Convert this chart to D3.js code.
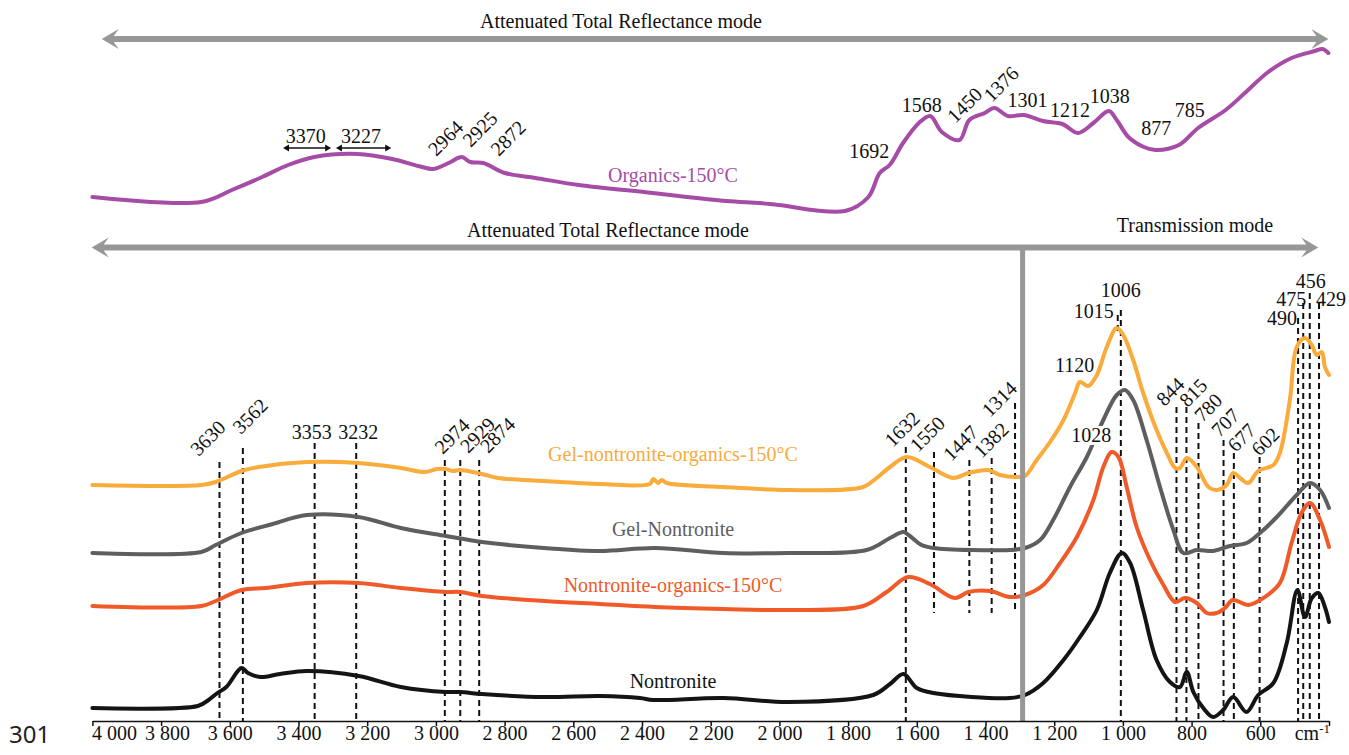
<!DOCTYPE html>
<html>
<head>
<meta charset="utf-8">
<script src="https://cdn.jsdelivr.net/npm/d3@7"></script>
<style>
  body { margin: 0; background: #fff; }
  svg { display: block; }
</style>
</head>
<body>
<div id="vis"></div>
<script>
// dimensions of the frame
const FRAME_WIDTH = 1349;
const FRAME_HEIGHT = 755;
const AXIS_Y = 721;
const SERIF = "'Liberation Serif', 'Times New Roman', serif";

// x axis ticks (wavenumber, cm-1)
const TICK_VALUES = [4000, 3800, 3600, 3400, 3200, 3000, 2800, 2600, 2400, 2200,
                     2000, 1800, 1600, 1400, 1200, 1000, 800, 600, 400];

// spectra: [wavenumber, relative intensity (offset units)]
const ORGANICS = [[4000,523],[3683,518],[3594,530],[3506,543],[3430,555],[3354,563],[3228,566],
  [3127,561],[3051,554],[3007,551],[2982,554],[2957,558],[2925,563],[2900,558],[2862,557],
  [2799,547],[2710,542],[2584,535],[2369,527],[2155,519],[2056,517],[2002,515],[1809,509],
  [1741,523],[1708,547],[1679,555],[1640,577],[1594,597],[1561,604],[1527,588],[1476,580],
  [1447,600],[1402,607],[1374,612],[1335,604],[1289,605],[1233,599],[1176,596],[1131,587],
  [1086,597],[1041,609],[1018,600],[984,583],[939,573],[905,570],[837,575],[781,592],
  [701,610],[645,627],[577,648],[509,662],[441,669],[419,671],[402,667]];

const GEL_ORGANICS = [[4000,235],[3683,235],[3641,238],[3566,249],[3516,253],[3376,258],
  [3225,257],[3102,252],[3033,248],[2997,251],[2971,251],[2950,249],[2930,250],[2866,246],
  [2819,242],[2685,239],[2522,236],[2377,236],[2367,241],[2353,237],[2343,240],[2328,237],
  [2163,233],[1974,230],[1756,233],[1717,242],[1678,253],[1629,263],[1562,253],[1494,242],
  [1450,247],[1392,250],[1358,245],[1309,243],[1285,244],[1251,260],[1212,278],[1173,300],
  [1139,327],[1125,338],[1101,334],[1076,345],[1047,373],[1018,392],[999,385],[970,360],
  [941,327],[902,290],[872,267],[848,252],[834,252],[814,262],[785,253],[751,233],[727,230],
  [698,235],[679,247],[659,242],[635,237],[606,249],[562,255],[543,267],[514,320],[494,373],
  [470,382],[450,375],[436,365],[421,368],[412,353],[400,345]];

const GEL_NONTRONITE = [[4000,167],[3683,168],[3641,175],[3566,187],[3475,196],[3376,205],
  [3225,203],[3102,192],[2971,184],[2866,178],[2685,172],[2522,169],[2362,172],[2163,167],
  [1974,167],[1746,170],[1678,182],[1639,188],[1620,184],[1586,175],[1552,172],[1329,170],
  [1285,172],[1241,180],[1203,200],[1154,233],[1105,263],[1057,300],[1018,325],[994,330],
  [970,320],[931,280],[892,233],[853,190],[824,167],[785,170],[737,169],[688,174],[640,177],
  [601,187],[552,203],[494,225],[455,237],[426,230],[400,212]];

const NONTRONITE_ORGANICS = [[4000,114],[3683,114],[3641,119],[3566,130],[3495,132],[3376,137],
  [3225,137],[3102,132],[2971,128],[2930,128],[2866,124],[2685,119],[2522,116],[2362,113],
  [2163,111],[1974,110],[1756,114],[1688,128],[1625,143],[1562,136],[1489,122],[1450,128],
  [1387,129],[1329,123],[1285,125],[1232,135],[1183,157],[1134,183],[1086,220],[1057,253],
  [1033,268],[1013,263],[989,233],[960,193],[921,160],[882,135],[848,118],[819,122],[785,117],
  [756,107],[727,107],[703,112],[680,120],[635,115],[591,122],[543,137],[509,177],[480,207],
  [455,217],[426,200],[400,173]];

const NONTRONITE = [[4000,12],[3693,14],[3662,20],[3636,27],[3610,33],[3566,52],[3547,47],
  [3511,43],[3454,46],[3376,49],[3225,44],[3102,33],[2971,28],[2930,28],[2866,26],[2685,23],
  [2522,24],[2406,22],[2367,20],[2163,22],[1974,18],[1727,25],[1678,36],[1639,46],[1600,32],
  [1552,27],[1329,22],[1285,25],[1232,37],[1173,60],[1125,83],[1076,110],[1038,147],[1003,167],
  [979,157],[941,110],[902,60],[863,38],[834,33],[814,48],[795,28],[766,12],[737,3],[708,10],
  [679,23],[640,8],[606,25],[562,37],[523,77],[492,130],[470,103],[450,122],[431,127],
  [412,113],[400,98]];

// series names
const SERIES_NAMES = ["Organics-150°C", "Gel-nontronite-organics-150°C", "Gel-Nontronite",
                      "Nontronite-organics-150°C", "Nontronite"];

// peak labels
const ORGANIC_PEAKS = [3370, 3227, 2964, 2925, 2872, 1692, 1568, 1450, 1376, 1301, 1212, 1038, 877, 785];
const ORGANIC_RANGES = [[3445, 3305], [3291, 3130]];
const LOWER_PEAKS = [3630, 3562, 3353, 3232, 2974, 2929, 2874, 1632, 1550, 1447, 1382, 1314,
                     1120, 1015, 1006, 1028, 844, 815, 780, 707, 677, 602, 490, 475, 456, 429];

// boundary between ATR and transmission modes (cm-1)
const MODE_SPLIT = 1292;

// ---------- layout / styles ----------
const STYLE = [
  {color: "#a64ca6", width: 4, labelY: 182},
  {color: "#f9ab3b", width: 4, labelY: 461},
  {color: "#5e5e5e", width: 4, labelY: 536},
  {color: "#f05a28", width: 4, labelY: 592},
  {color: "#141414", width: 4, labelY: 688}
];
const SERIES_LABEL_X = 673;

// label layout: rot = rotated -45, anchor, dx from peak, baseline y, dashed line [top, bottom]
const ORG_LAYOUT = {
  3370: {anchor: "middle", dx: -3, y: 143},
  3227: {anchor: "middle", dx: 3, y: 143},
  2964: {rot: true, dx: -12, y: 157},
  2925: {rot: true, dx: 9, y: 148},
  2872: {rot: true, dx: 19, y: 157},
  1692: {anchor: "end", dx: 4, y: 158},
  1568: {anchor: "middle", dx: -6, y: 112},
  1450: {rot: true, dx: -13, y: 124},
  1376: {rot: true, dx: -2, y: 103},
  1301: {anchor: "middle", dx: 8, y: 107},
  1212: {anchor: "middle", dx: 20, y: 117},
  1038: {anchor: "middle", dx: 0, y: 103},
  877: {anchor: "middle", dx: -9, y: 135},
  785: {anchor: "middle", dx: -7, y: 117}
};

const LOWER_LAYOUT = {
  3630: {rot: true, dx: -21, y: 457, line: [462, 721]},
  3562: {rot: true, dx: -2, y: 435, line: [448, 721]},
  3353: {anchor: "middle", dx: -3, y: 439, line: [443, 721]},
  3232: {anchor: "middle", dx: 2, y: 439, line: [443, 721]},
  2974: {rot: true, dx: -2, y: 455, line: [460, 721]},
  2929: {rot: true, dx: 8, y: 454, line: [460, 721]},
  2874: {rot: true, dx: 9, y: 454, line: [460, 721]},
  1632: {rot: true, dx: -13, y: 448, line: [447, 721]},
  1550: {rot: true, dx: -16, y: 453, line: [452, 613]},
  1447: {rot: true, dx: -18, y: 462, line: [460, 613]},
  1382: {rot: true, dx: -10, y: 459, line: [458, 613]},
  1314: {rot: true, dx: -25, y: 418, line: [403, 613]},
  1120: {anchor: "middle", dx: -7, y: 372},
  1015: {anchor: "end", dx: -4, y: 318, line: [315, 331]},
  1006: {anchor: "middle", dx: 0, y: 297, line: [310, 721]},
  1028: {anchor: "end", dx: -2, y: 442, bg: true},
  844: {rot: true, dx: -12, y: 407, line: [407, 721]},
  815: {rot: true, dx: 1, y: 408, line: [407, 721]},
  780: {rot: true, dx: 4, y: 423, line: [423, 721]},
  707: {rot: true, dx: -4, y: 438, line: [440, 721]},
  677: {rot: true, dx: 2, y: 453, line: [453, 721]},
  602: {rot: true, dx: 0, y: 457, line: [457, 721]},
  490: {anchor: "end", dx: -1, y: 325, line: [318, 721]},
  475: {anchor: "end", dx: 3, y: 306, line: [303, 721]},
  456: {anchor: "middle", dx: 1, y: 288, line: [293, 721]},
  429: {anchor: "start", dx: -3, y: 306, line: [303, 721]}
};

// ---------- scales ----------
const X_SCALE = d3.scaleLinear()
                  .domain([4000, 400])
                  .range([92.4, 1329]);

const Y_SCALE = d3.scaleLinear()
                  .domain([0, 720])
                  .range([720, 0]);

const FRAME = d3.select("#vis")
                .append("svg")
                .attr("width", FRAME_WIDTH)
                .attr("height", FRAME_HEIGHT)
                .style("background", "#fff");

// grey mode arrow (double headed, notched heads)
function bigArrow(x1, x2, y) {
  const h = 17, w = 10, n = 12, t = 3;
  return `M${x1},${y} L${x1 + h},${y - w} L${x1 + n},${y - t} L${x2 - n},${y - t} ` +
         `L${x2 - h},${y - w} L${x2},${y} L${x2 - h},${y + w} L${x2 - n},${y + t} ` +
         `L${x1 + n},${y + t} L${x1 + h},${y + w} Z`;
}

FRAME.append("path").attr("d", bigArrow(101.7, 1328.4, 39)).attr("fill", "#979797");
FRAME.append("path").attr("d", bigArrow(91.7, 1318.3, 247.5)).attr("fill", "#979797");

// mode titles
function serifText(x, y, txt, anchor) {
  return FRAME.append("text")
              .attr("x", x)
              .attr("y", y)
              .attr("text-anchor", anchor || "middle")
              .attr("font-family", SERIF)
              .attr("font-size", 20)
              .attr("fill", "#111")
              .text(txt);
}
serifText(621, 28, "Attenuated Total Reflectance mode");
serifText(608, 237, "Attenuated Total Reflectance mode");
serifText(1195, 232, "Transmission mode");

// dashed peak lines (behind the spectra)
FRAME.append("g")
     .selectAll("line")
     .data(LOWER_PEAKS.filter((p) => LOWER_LAYOUT[p].line))
     .enter()
     .append("line")
       .attr("x1", (d) => X_SCALE(d))
       .attr("x2", (d) => X_SCALE(d))
       .attr("y1", (d) => LOWER_LAYOUT[d].line[0])
       .attr("y2", (d) => LOWER_LAYOUT[d].line[1])
       .attr("stroke", "#111")
       .attr("stroke-width", 2)
       .attr("stroke-dasharray", "6,4");

// spectra
const LINE = d3.line()
               .x((d) => X_SCALE(d[0]))
               .y((d) => Y_SCALE(d[1]))
               .curve(d3.curveCatmullRom.alpha(0.5));

const ALL_DATA = [ORGANICS, GEL_ORGANICS, GEL_NONTRONITE, NONTRONITE_ORGANICS, NONTRONITE];

FRAME.append("g")
     .selectAll("path")
     .data(ALL_DATA)
     .enter()
     .append("path")
       .attr("d", (d) => LINE(d))
       .attr("fill", "none")
       .attr("stroke", (d, i) => STYLE[i].color)
       .attr("stroke-width", (d, i) => STYLE[i].width)
       .attr("stroke-linejoin", "round")
       .attr("stroke-linecap", "round");

// series names
FRAME.append("g")
     .selectAll("text")
     .data(SERIES_NAMES)
     .enter()
     .append("text")
       .attr("x", SERIES_LABEL_X)
       .attr("y", (d, i) => STYLE[i].labelY)
       .attr("text-anchor", "middle")
       .attr("font-family", SERIF)
       .attr("font-size", 20)
       .attr("fill", (d, i) => STYLE[i].color)
       .text((d) => d);

// vertical bar between the two modes
FRAME.append("rect")
     .attr("x", X_SCALE(MODE_SPLIT) - 2.5)
     .attr("y", 248)
     .attr("width", 5)
     .attr("height", AXIS_Y - 248)
     .attr("fill", "#979797");

// peak labels
function drawPeakLabels(peaks, layout) {
  peaks.forEach((p) => {
    const L = layout[p];
    const px = X_SCALE(p) + L.dx;
    const t = FRAME.append("text")
                   .attr("x", px)
                   .attr("y", L.y)
                   .attr("font-family", SERIF)
                   .attr("font-size", 20)
                   .attr("fill", "#111")
                   .text(p);
    if (L.rot) {
      t.attr("text-anchor", "start")
       .attr("transform", `rotate(-45,${px},${L.y})`);
    } else {
      t.attr("text-anchor", L.anchor);
    }
    if (L.bg) {
      const b = t.node().getBBox();
      FRAME.insert("rect", () => t.node())
           .attr("x", b.x - 1).attr("y", b.y + 2)
           .attr("width", b.width + 3).attr("height", b.height - 3)
           .attr("fill", "#fff");
    }
  });
}
drawPeakLabels(ORGANIC_PEAKS, ORG_LAYOUT);
drawPeakLabels(LOWER_PEAKS, LOWER_LAYOUT);

// small double arrows under 3370 / 3227
function smallArrow(x1, x2, y) {
  const h = 6, w = 3.5;
  return `M${x1},${y} L${x1 + h},${y - w} L${x1 + h},${y + w} Z ` +
         `M${x2},${y} L${x2 - h},${y - w} L${x2 - h},${y + w} Z`;
}
ORGANIC_RANGES.forEach((r) => {
  const xa = X_SCALE(r[0]), xb = X_SCALE(r[1]);
  FRAME.append("line")
       .attr("x1", xa + 3).attr("x2", xb - 3)
       .attr("y1", 148).attr("y2", 148)
       .attr("stroke", "#111").attr("stroke-width", 1.5);
  FRAME.append("path").attr("d", smallArrow(xa, xb, 148)).attr("fill", "#111");
});

// x axis
const FORMAT = d3.formatLocale({decimal: ".", thousands: " ", grouping: [3], currency: ["", ""]})
                 .format(",d");

const X_AXIS = FRAME.append("g")
                    .attr("transform", "translate(0," + AXIS_Y + ")")
                    .call(d3.axisBottom(X_SCALE)
                            .tickValues(TICK_VALUES)
                            .tickSize(5)
                            .tickSizeOuter(0)
                            .tickFormat((d) => d === 400 ? "" : FORMAT(d)));

X_AXIS.select(".domain").attr("stroke", "#111").attr("stroke-width", 1.5);
X_AXIS.selectAll(".tick line").attr("stroke", "#111").attr("stroke-width", 1.5);
X_AXIS.selectAll(".tick text")
      .attr("y", 5)
      .attr("font-family", SERIF)
      .attr("font-size", 20)
      .attr("fill", "#111");
X_AXIS.selectAll(".tick text").filter((d) => d === 4000).attr("text-anchor", "start").attr("x", -1);
X_AXIS.selectAll(".tick text").filter((d) => d === 3800).attr("x", 6);

// unit label at the end of the axis
const UNIT = FRAME.append("text")
                  .attr("x", X_SCALE(400) + 1)
                  .attr("y", AXIS_Y + 19)
                  .attr("text-anchor", "end")
                  .attr("font-family", SERIF)
                  .attr("font-size", 20)
                  .attr("fill", "#111");
UNIT.append("tspan").text("cm");
UNIT.append("tspan").attr("dy", -7).attr("font-size", 13).text("-1");

// figure number
FRAME.append("text")
     .attr("x", 9)
     .attr("y", 743)
     .attr("font-family", "'Noto Sans', 'Open Sans', sans-serif")
     .attr("font-size", 24)
     .attr("fill", "#222")
     .text("301");
</script>
</body>
</html>
